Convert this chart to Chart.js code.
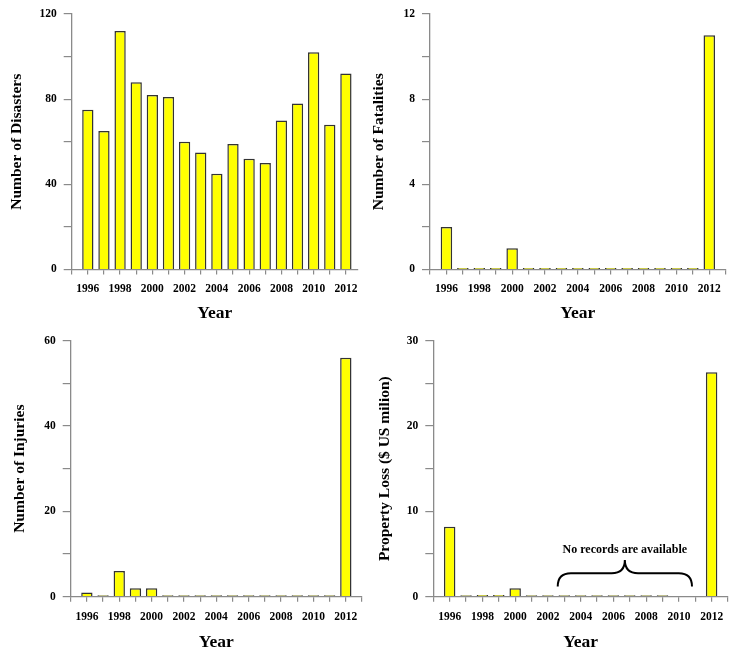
<!DOCTYPE html>
<html>
<head>
<meta charset="utf-8">
<script src="https://cdn.jsdelivr.net/npm/chart.js@4.4.1/dist/chart.umd.min.js"></script>
<style>
    html, body { margin: 0; padding: 0; background: #fff; overflow: hidden; }
    #wrap { position: relative; width: 739px; height: 649px; }
    canvas { position: absolute; }
</style>
</head>
<body>
<div id="wrap">
    <canvas id="disasterChart"></canvas>
    <canvas id="fatalityChart"></canvas>
    <canvas id="injuryChart"></canvas>
    <canvas id="lossChart"></canvas>
</div>
<script>
const years = [1996, 1997, 1998, 1999, 2000, 2001, 2002, 2003, 2004, 2005, 2006, 2007, 2008, 2009, 2010, 2011, 2012];
const disasters = [75, 65, 112, 88, 82, 81, 60, 55, 45, 59, 52, 50, 70, 78, 102, 68, 92];
const fatalities = [2, 0, 0, 0, 1, 0, 0, 0, 0, 0, 0, 0, 0, 0, 0, 0, 11];
const injuries = [1, 0, 6, 2, 2, 0, 0, 0, 0, 0, 0, 0, 0, 0, 0, 0, 56];
// 2010 and 2011 have no property loss records
const propertyLoss = [8.2, 0, 0.2, 0.2, 1.0, 0, 0, 0, 0, 0, 0, 0, 0, 0, null, null, 26.3];

const noRecordsNote = "No records are available";

Chart.defaults.font.family = "'Liberation Serif', 'Times New Roman', serif";

const AXIS_GREY = "#8a8a8a";

// brace + note over the missing years of the property loss panel
const bracePlugin = {
    id: "brace",
    afterDatasetsDraw(chart) {
        const x = chart.scales.x, y = chart.scales.y;
        const ctx = chart.ctx;
        const x0 = x.getPixelForValue(2002.6), x1 = x.getPixelForValue(2010.8), xm = x.getPixelForValue(2006.7);
        const yEnd = y.getPixelForValue(1.2), yLine = y.getPixelForValue(2.75), yTip = y.getPixelForValue(4.3);
        const r = yEnd - yLine;
        ctx.save();
        ctx.strokeStyle = "#000";
        ctx.lineWidth = 2;
        ctx.beginPath();
        ctx.moveTo(x0, yEnd);
        ctx.quadraticCurveTo(x0, yLine, x0 + r, yLine);
        ctx.lineTo(xm - r, yLine);
        ctx.quadraticCurveTo(xm, yLine, xm, yTip);
        ctx.quadraticCurveTo(xm, yLine, xm + r, yLine);
        ctx.lineTo(x1 - r, yLine);
        ctx.quadraticCurveTo(x1, yLine, x1, yEnd);
        ctx.stroke();
        ctx.fillStyle = "#000";
        ctx.font = "bold 12px 'Liberation Serif', serif";
        ctx.textAlign = "center";
        ctx.textBaseline = "middle";
        ctx.fillText(noRecordsNote, xm, y.getPixelForValue(5.5));
        ctx.restore();
    }
};

function makeChart(id, values, opts) {
    const canvas = document.getElementById(id);
    canvas.width = opts.w;
    canvas.height = opts.h;
    canvas.style.left = opts.left + "px";
    canvas.style.top = opts.top + "px";
    canvas.style.width = opts.w + "px";
    canvas.style.height = opts.h + "px";

    return new Chart(canvas.getContext("2d"), {
        type: "bar",
        data: {
            labels: years,
            datasets: [{
                data: values,
                backgroundColor: "#ffff00",
                borderColor: "#333333",
                borderWidth: 1.5,
                barPercentage: 0.7,
                categoryPercentage: 1,
                minBarLength: 1.5
            }]
        },
        options: {
            responsive: false,
            animation: false,
            devicePixelRatio: 1,
            layout: { padding: { left: 0, top: opts.padTop, right: opts.padRight, bottom: 0 } },
            plugins: { legend: { display: false }, tooltip: { enabled: false } },
            scales: {
                x: {
                    type: "linear",
                    min: 1995,
                    max: opts.xMax,
                    offset: false,
                    grid: { offset: false, drawOnChartArea: false, tickLength: 5, color: AXIS_GREY, lineWidth: 1.2 },
                    border: { color: AXIS_GREY, width: 1.3 },
                    ticks: {
                        stepSize: 1,
                        maxTicksLimit: 100,
                        includeBounds: false,
                        autoSkip: false,
                        maxRotation: 0,
                        minRotation: 0,
                        padding: 8,
                        color: "#000",
                        font: { size: 11.5, weight: "bold" },
                        callback: v => (v % 2 === 0 && v >= 1996 && v <= 2012) ? String(v) : ""
                    },
                    title: {
                        display: true,
                        text: "Year",
                        color: "#000",
                        font: { size: 17.5, weight: "bold" },
                        padding: { top: 0, bottom: opts.xTitlePad }
                    },
                    afterFit: s => { s.height = opts.xAxisH; }
                },
                y: {
                    min: 0,
                    max: opts.yMax,
                    grid: { drawOnChartArea: false, tickLength: 8, color: AXIS_GREY, lineWidth: 1.2 },
                    border: { color: AXIS_GREY, width: 1.3 },
                    ticks: {
                        stepSize: opts.yStep,
                        padding: 7,
                        color: "#000",
                        font: { size: 11.5, weight: "bold" },
                        callback: v => (v % opts.yLabelStep === 0) ? String(v) : ""
                    },
                    title: {
                        display: true,
                        text: opts.yTitle,
                        color: "#000",
                        font: { size: 15.5, weight: "bold" },
                        padding: { top: opts.yTitlePad, bottom: 0 }
                    },
                    afterFit: s => { s.width = opts.yAxisW; }
                }
            }
        },
        plugins: opts.plugins || []
    });
}

makeChart("disasterChart", disasters, {
    left: 0, top: 0, w: 370, h: 330,
    padTop: 14, padRight: 12, xAxisH: 60.5, xTitlePad: 5.8, yAxisW: 71.7, yTitlePad: 8,
    xMax: 2012.75, yMax: 120, yStep: 20, yLabelStep: 40,
    yTitle: "Number of Disasters"
});

makeChart("fatalityChart", fatalities, {
    left: 369, top: 0, w: 370, h: 330,
    padTop: 14, padRight: 13.3, xAxisH: 60.5, xTitlePad: 5.8, yAxisW: 61, yTitlePad: 1,
    xMax: 2013, yMax: 12, yStep: 2, yLabelStep: 4,
    yTitle: "Number of Fatalities"
});

makeChart("injuryChart", injuries, {
    left: 0, top: 326, w: 370, h: 330,
    padTop: 14.7, padRight: 4, xAxisH: 59.3, xTitlePad: 2.8, yAxisW: 70.7, yTitlePad: 11,
    xMax: 2013, yMax: 60, yStep: 10, yLabelStep: 20,
    yTitle: "Number of Injuries"
});

makeChart("lossChart", propertyLoss, {
    left: 369, top: 326, w: 370, h: 330,
    padTop: 14.7, padRight: 11, xAxisH: 59.3, xTitlePad: 2.8, yAxisW: 64.3, yTitlePad: 6.5,
    xMax: 2013, yMax: 30, yStep: 5, yLabelStep: 10,
    yTitle: "Property Loss ($ US milion)",
    plugins: [bracePlugin]
});
</script>
</body>
</html>
